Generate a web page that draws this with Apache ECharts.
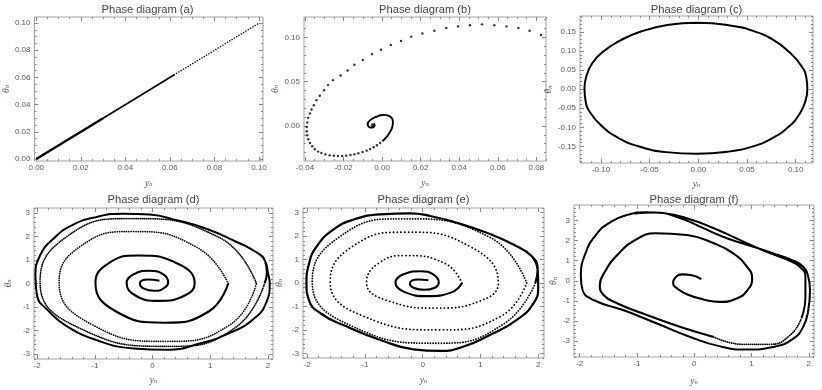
<!DOCTYPE html>
<html>
<head>
<meta charset="utf-8">
<script src="https://cdn.jsdelivr.net/npm/echarts@6/dist/echarts.min.js"></script>
<style>
  html, body { margin: 0; background: #fff; }
  #main { width: 822px; height: 390px; }
</style>
</head>
<body>
<div id="main"></div>
<script>
// tick labels of every frame
const aTicks = [0, 0.02, 0.04, 0.06, 0.08, 0.1];
const bxTicks = [-0.04, -0.02, 0, 0.02, 0.04, 0.06, 0.08];
const byTicks = [0, 0.05, 0.1];
const cxTicks = [-0.1, -0.05, 0, 0.05, 0.1];
const cyTicks = [-0.15, -0.1, -0.05, 0, 0.05, 0.1, 0.15];
const dxTicks = [-2, -1, 0, 1, 2];
const dyTicks = [-3, -2, -1, 0, 1, 2, 3];

// (a) points along the diagonal, dense near the origin
const aThick = [[0, 0], [0.03, 0.03]];
const aThin = [[0.03, 0.03], [0.062, 0.062]];
const aDots = [[0.062, 0.062], [0.1, 0.1]];

// (b) sparse iterates on the big arc, then the tight spiral
const bArc = [[0.0824, 0.1026], [0.0765, 0.1075], [0.0707, 0.1106], [0.0645, 0.1124], [0.0582, 0.1136],
  [0.0518, 0.1147], [0.0456, 0.1136], [0.0394, 0.1124], [0.0333, 0.1106], [0.0271, 0.1075],
  [0.0209, 0.1045], [0.0151, 0.1008], [0.0098, 0.0959], [0.0045, 0.0913], [-0.0006, 0.0861],
  [-0.0052, 0.0812], [-0.0100, 0.0744], [-0.0144, 0.0691], [-0.0179, 0.0626], [-0.0215, 0.0570],
  [-0.0255, 0.0517], [-0.0280, 0.0461], [-0.0301, 0.0404], [-0.0323, 0.0340], [-0.0340, 0.0291],
  [-0.0354, 0.0234], [-0.0366, 0.0185], [-0.0374, 0.0140], [-0.0383, 0.0091], [-0.0388, 0.0038],
  [-0.0391, -0.0011], [-0.0391, -0.0060], [-0.0388, -0.0105], [-0.0383, -0.0151], [-0.0374, -0.0192],
  [-0.0362, -0.0230], [-0.0349, -0.0264], [-0.0332, -0.0290], [-0.0315, -0.0305], [-0.0294, -0.0321],
  [-0.0272, -0.0332], [-0.0250, -0.0336], [-0.0229, -0.0339], [-0.0207, -0.0339], [-0.0186, -0.0336],
  [-0.0164, -0.0328], [-0.0144, -0.0321], [-0.0123, -0.0309], [-0.0101, -0.0294], [-0.0080, -0.0279],
  [-0.0062, -0.0260], [-0.0044, -0.0241], [-0.0027, -0.0219], [-0.0010, -0.0192], [0.0005, -0.0166]];
const bSpiral = [[0.0005, -0.0166], [0.0019, -0.0136], [0.0031, -0.0102], [0.0041, -0.0068], [0.0050, -0.0030],
  [0.0055, 0.0008], [0.0056, 0.0045], [0.0053, 0.0079], [0.0044, 0.0102], [0.0031, 0.0117],
  [0.0014, 0.0125], [-0.0007, 0.0121], [-0.0027, 0.0106], [-0.0050, 0.0083], [-0.0067, 0.0053],
  [-0.0075, 0.0023], [-0.0070, -0.0007], [-0.0058, -0.0019], [-0.0044, -0.0011], [-0.0038, 0.0011],
  [-0.0044, 0.0026]];
const bCenter = [[-0.0048, 0.0008]];

// (c) closed orbit
const cOrbit = [[-0.001, 0.174], [0.03, 0.168], [0.057, 0.152], [0.077, 0.129], [0.093, 0.098], [0.105, 0.064],
  [0.111, 0.03], [0.112, 0.0], [0.11, -0.031], [0.104, -0.065], [0.093, -0.098], [0.077, -0.127],
  [0.056, -0.15], [0.03, -0.164], [-0.002, -0.169], [-0.033, -0.165], [-0.06, -0.151], [-0.082, -0.128],
  [-0.099, -0.097], [-0.111, -0.062], [-0.116, -0.029], [-0.117, 0.003], [-0.115, 0.034], [-0.109, 0.068],
  [-0.097, 0.1], [-0.08, 0.128], [-0.059, 0.151], [-0.032, 0.168], [-0.001, 0.174]];

// (d) spiral out to the limit cycle
const dInner = [[0.12, 0.12], [-0.08, 0.17], [-0.22, 0.0], [-0.15, -0.22], [0.03, -0.31], [0.2, -0.2],
  [0.27, 0.05], [0.18, 0.4], [-0.05, 0.54], [-0.33, 0.39], [-0.45, 0.02], [-0.29, -0.52], [0.1, -0.74],
  [0.55, -0.52], [0.73, 0.0], [0.44, 0.84], [-0.25, 1.19], [-0.77, 0.85], [-0.99, 0.02], [-0.64, -1.18],
  [0.2, -1.67], [0.98, -1.18], [1.31, 0.0]];
const dMid = [[1.31, 0.0], [0.78, 1.52], [-0.35, 2.21], [-1.25, 1.58], [-1.62, 0.05], [-1.07, -1.72],
  [0.25, -2.46], [1.35, -1.74], [1.8, 0.0]];
const dNear = [[1.8, 0.0], [1.16, 1.95], [-0.4, 2.76], [-1.5, 1.97], [-1.95, 0.05], [-1.29, -1.87],
  [0.3, -2.67], [1.42, -1.9], [1.94, 0.0]];
const dOuter = [[1.94, 0.0], [1.98, 0.45], [1.95, 0.95], [1.8, 1.33], [1.4, 1.83], [0.93, 2.33], [0.42, 2.69],
  [-0.05, 2.93], [-0.51, 2.97], [-0.97, 2.83], [-1.4, 2.47], [-1.72, 1.9], [-1.95, 1.19], [-2.03, 0.3],
  [-2.0, -0.53], [-1.83, -1.1], [-1.49, -1.81], [-0.91, -2.46], [-0.33, -2.76], [0.24, -2.82],
  [0.82, -2.55], [1.34, -2.1], [1.74, -1.53], [1.97, -0.81], [2.03, 0.0], [2.0, 0.45], [1.95, 0.95],
  [1.8, 1.33], [1.4, 1.83]];

// (e) same system, middle turns drawn as sparse dots
const eInner = [[0.1, 0.12], [-0.08, 0.15], [-0.22, -0.02], [-0.15, -0.21], [0.03, -0.29], [0.21, -0.2],
  [0.28, 0.02], [0.19, 0.36], [-0.03, 0.5], [-0.34, 0.36], [-0.47, 0.02], [-0.31, -0.39], [0.08, -0.56],
  [0.5, -0.4], [0.68, 0.0]];
const eMid = [[0.68, 0.0], [0.39, 0.83], [-0.3, 1.17], [-0.77, 0.83], [-0.97, 0.02], [-0.61, -0.75],
  [0.25, -1.07], [1.0, -0.76], [1.31, 0.0], [0.84, 1.53], [-0.3, 2.17], [-1.22, 1.55], [-1.6, 0.05],
  [-1.04, -1.4], [0.3, -2.0], [1.36, -1.41], [1.8, 0.0]];
const eNear = [[1.8, 0.0], [1.17, 1.94], [-0.35, 2.74], [-1.45, 1.95], [-1.91, 0.05], [-1.26, -1.8],
  [0.3, -2.57], [1.4, -1.75], [1.95, 0.0]];
const eOuter = [[1.95, 0.0], [1.99, 0.57], [1.89, 1.14], [1.57, 1.64], [1.11, 2.14], [0.59, 2.57], [0.13, 2.86],
  [-0.21, 2.97], [-0.73, 2.93], [-1.19, 2.71], [-1.54, 2.29], [-1.83, 1.57], [-1.97, 0.79], [-2.01, 0.0],
  [-1.97, -0.71], [-1.77, -1.29], [-1.31, -1.86], [-0.73, -2.43], [-0.16, -2.83], [0.31, -2.9],
  [0.71, -2.71], [1.17, -2.21], [1.63, -1.57], [1.92, -0.86], [2.0, -0.14], [1.99, 0.57], [1.89, 1.14]];

// (f) skewed cycle
const fInner = [[0.12, 0.08], [-0.04, 0.28], [-0.21, 0.32], [-0.33, 0.17], [-0.37, -0.13], [-0.3, -0.38],
  [-0.13, -0.67], [0.16, -0.93], [0.45, -1.05], [0.74, -0.88], [0.93, -0.47], [1.01, 0.12], [0.92, 0.7],
  [0.68, 1.37], [0.34, 1.87], [-0.13, 2.28], [-0.68, 2.37], [-1.02, 2.05], [-1.34, 1.3], [-1.56, 0.45],
  [-1.65, -0.22], [-1.58, -0.72], [-1.34, -1.13], [-0.82, -1.72], [-0.24, -2.3], [0.34, -2.8]];
const fLowMid = [[0.34, -2.8], [0.86, -3.17], [1.32, -3.17], [1.67, -2.72], [1.87, -1.88]];
const fOuter = [[1.87, -1.88], [1.94, -0.8], [1.94, 0.2], [1.84, 0.7], [1.61, 1.07], [1.26, 1.45], [0.8, 2.03],
  [0.34, 2.62], [-0.13, 3.12], [-0.55, 3.38], [-0.85, 3.42], [-1.15, 3.3], [-1.45, 2.95], [-1.7, 2.35],
  [-1.9, 1.37], [-1.98, 0.2], [-1.95, -0.47], [-1.75, -0.97], [-1.23, -1.47], [-0.65, -2.13], [-0.07, -2.8],
  [0.45, -3.27], [0.92, -3.43], [1.38, -3.3], [1.73, -2.88], [1.9, -2.3], [1.99, -1.47], [2.02, -0.47],
  [1.99, 0.2], [1.9, 0.7], [1.73, 1.0], [1.38, 1.37], [1.03, 1.7], [0.57, 2.12], [0.1, 2.7], [-0.24, 3.12],
  [-0.7, 3.4], [-1.05, 3.35]];

var frameColor = '#a3a3a3';
var tickColor = '#8a8a8a';
var labelColor = '#5a5a5a';
var nameColor = '#6b4c4c';
var tickFont = '"Liberation Sans Narrow", "Liberation Sans", sans-serif';

var grids = [], xAxes = [], yAxes = [], series = [], titles = [];

function minorTicks(range, step, majors) {
  let out = [];
  for (let k = Math.ceil(range[0] / step - 1e-9); k * step <= range[1] + 1e-12; k++) {
    let v = +(k * step).toFixed(6);
    if (!majors.some(m => Math.abs(m - v) < step / 10)) out.push(v);
  }
  return out;
}

function nameStyle() {
  return {
    color: nameColor,
    rich: {
      v: { fontSize: 9.5, fontStyle: 'italic', fontFamily: 'Liberation Serif', color: nameColor, padding: [0, 0, 2, 0] },
      s: { fontSize: 6.5, fontStyle: 'italic', fontFamily: 'Liberation Serif', color: nameColor }
    }
  };
}

function addAxis(list, gi, pos, range, majors, minors, fmt, name, gap) {
  const idx = list.length;
  const vertical = pos === 'left' || pos === 'right';
  list.push({
    gridIndex: gi, type: 'value', position: pos, min: range[0], max: range[1],
    axisLine: { show: false, onZero: false }, splitLine: { show: false },
    axisTick: { show: true, inside: true, length: 4, customValues: majors, lineStyle: { color: tickColor } },
    axisLabel: fmt ? { show: true, customValues: majors, formatter: fmt, fontSize: 8, color: labelColor,
      fontFamily: tickFont, margin: vertical ? 4 : 3 } : { show: false },
    name: fmt ? name : '',
    nameLocation: 'middle', nameGap: gap, nameRotate: vertical ? 90 : 0,
    nameTextStyle: nameStyle()
  });
  list.push({
    gridIndex: gi, type: 'value', position: pos, min: range[0], max: range[1],
    axisLine: { show: false, onZero: false }, splitLine: { show: false },
    axisTick: { show: true, inside: true, length: 2, customValues: minors, lineStyle: { color: tickColor } },
    axisLabel: { show: false }
  });
  return idx;
}

function curve(data, width, dotGap) {
  return {
    type: 'line', data: data, showSymbol: false, smooth: 0.5, silent: true,
    lineStyle: { color: '#000', width: width, type: dotGap ? [0.1, dotGap] : 'solid', cap: dotGap ? 'round' : 'butt' }
  };
}

function dots(data, size) {
  return { type: 'scatter', data: data, symbolSize: size, silent: true, itemStyle: { color: '#000' } };
}

function addPanel(p) {
  const gi = grids.length;
  grids.push({ left: p.box[0], top: p.box[1], width: p.box[2], height: p.box[3], show: true,
    borderColor: frameColor, borderWidth: 1 });
  titles.push({ text: p.title, left: p.box[0] + p.box[2] / 2, top: p.titleTop, textAlign: 'center', padding: 0,
    textStyle: { fontSize: 11.2, fontWeight: 'normal', color: '#444', fontFamily: 'Liberation Sans' } });
  const fmt = function (v) { return p.dec ? v.toFixed(p.dec) : String(Math.round(v)); };
  const xMinor = minorTicks(p.xr, p.xStep, p.xTicks);
  const yMinor = minorTicks(p.yr, p.yStep, p.yTicks);
  const xi = addAxis(xAxes, gi, 'bottom', p.xr, p.xTicks, xMinor, fmt, '{v|y}{s|n}', p.xGap);
  addAxis(xAxes, gi, 'top', p.xr, p.xTicks, xMinor);
  const yi = addAxis(yAxes, gi, 'left', p.yr, p.yTicks, yMinor, fmt, '{v|θ}{s|n}', p.yGap);
  addAxis(yAxes, gi, 'right', p.yr, p.yTicks, yMinor);
  p.marks.forEach(function (m) {
    m.xAxisIndex = xi;
    m.yAxisIndex = yi;
    series.push(m);
  });
}

addPanel({ title: 'Phase diagram (a)', box: [32, 17, 231, 144], titleTop: 4,
  xr: [-0.0008, 0.1018], yr: [-0.0015, 0.1045], xTicks: aTicks, yTicks: aTicks, xStep: 0.005, yStep: 0.005,
  dec: 2, xGap: 17, yGap: 20,
  marks: [curve(aThick, 2.4), curve(aThin, 1.6), curve(aDots, 1.5, 2.6)] });

addPanel({ title: 'Phase diagram (b)', box: [304, 17, 242, 144], titleTop: 4,
  xr: [-0.0405, 0.085], yr: [-0.0396, 0.123], xTicks: bxTicks, yTicks: byTicks, xStep: 0.005, yStep: 0.01,
  dec: 2, xGap: 17, yGap: 22,
  marks: [dots(bArc, 2.4), curve(bSpiral, 1.9), dots(bCenter, 4)] });

addPanel({ title: 'Phase diagram (c)', box: [580, 16, 233, 147], titleTop: 4,
  xr: [-0.1216, 0.1178], yr: [-0.1935, 0.1917], xTicks: cxTicks, yTicks: cyTicks, xStep: 0.01, yStep: 0.01,
  dec: 2, xGap: 16, yGap: 24,
  marks: [curve(cOrbit, 2)] });

addPanel({ title: 'Phase diagram (d)', box: [34, 208, 239, 151], titleTop: 194,
  xr: [-2.055, 2.087], yr: [-3.21, 3.21], xTicks: dxTicks, yTicks: dyTicks, xStep: 0.2, yStep: 0.2,
  dec: 0, xGap: 16, yGap: 19,
  marks: [curve(dInner, 2.1), curve(dMid, 1.7, 2.2), curve(dNear, 1.7, 1.8), curve(dOuter, 2)] });

addPanel({ title: 'Phase diagram (e)', box: [303, 208, 241, 150], titleTop: 194,
  xr: [-2.07, 2.1], yr: [-3.2, 3.2], xTicks: dxTicks, yTicks: dyTicks, xStep: 0.2, yStep: 0.2,
  dec: 0, xGap: 17, yGap: 17,
  marks: [curve(eInner, 2.1), curve(eMid, 1.8, 3.6), curve(eNear, 1.8, 2.6), curve(eOuter, 2.2)] });

addPanel({ title: 'Phase diagram (f)', box: [574, 205, 240, 152], titleTop: 194,
  xr: [-2.1, 2.09], yr: [-3.8, 3.78], xTicks: dxTicks, yTicks: dyTicks, xStep: 0.2, yStep: 0.2,
  dec: 0, xGap: 19, yGap: 8,
  marks: [curve(fInner, 2.1), curve(fLowMid, 1.8, 2), curve(fOuter, 2)] });

var myChart = echarts.init(document.getElementById('main'));

var option = {
  animation: false,
  backgroundColor: '#fff',
  title: titles,
  grid: grids,
  xAxis: xAxes,
  yAxis: yAxes,
  series: series
};

myChart.setOption(option);
</script>
</body>
</html>
